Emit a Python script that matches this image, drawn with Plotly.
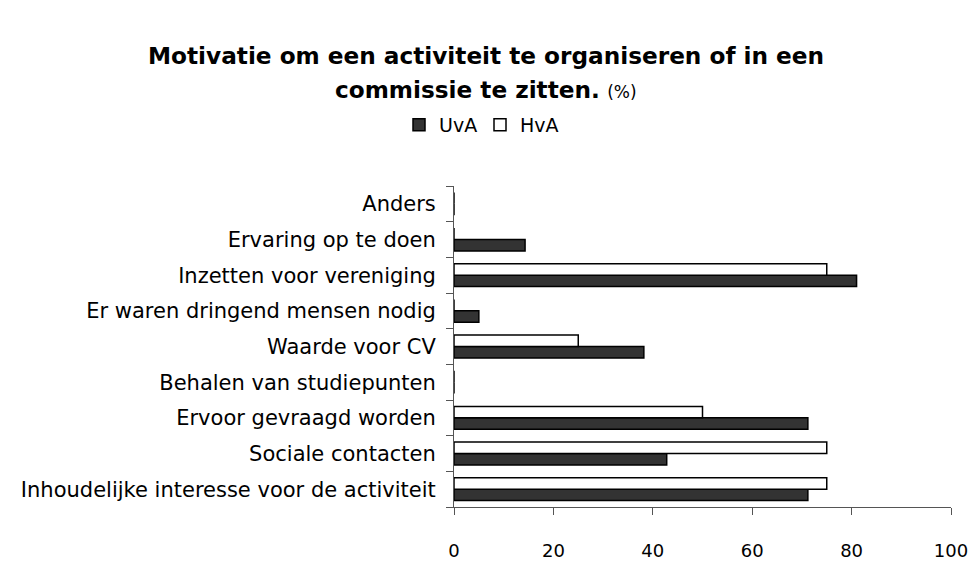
import plotly.graph_objects as go

categories = [
    "Inhoudelijke interesse voor de activiteit",
    "Sociale contacten",
    "Ervoor gevraagd worden",
    "Behalen van studiepunten",
    "Waarde voor CV",
    "Er waren dringend mensen nodig",
    "Inzetten voor vereniging",
    "Ervaring op te doen",
    "Anders",
]
uva = [71.2, 42.8, 71.2, 0, 38.2, 5.0, 81.0, 14.3, 0]
hva = [75.0, 75.0, 50.0, 0, 25.0, 0, 75.0, 0, 0]
x_ticks = [0, 20, 40, 60, 80, 100]

FONT = "DejaVu Sans"

fig = go.Figure()
fig.add_trace(go.Bar(
    y=categories, x=uva, name="UvA", orientation="h",
    marker=dict(color="#333333", line=dict(color="#000000", width=1.5)),
))
fig.add_trace(go.Bar(
    y=categories, x=hva, name="HvA", orientation="h",
    marker=dict(color="#ffffff", line=dict(color="#000000", width=1.5)),
))

W, H = 971, 563
L, T = 454, 186
R = W - 951
B = H - 507
ph = H - T - B
pw = W - L - R
cx = (485.5 - L) / pw
lx = (480 - L) / pw

def py(pix):
    return (H - B - pix) / ph

fig.update_layout(
    width=W, height=H,
    margin=dict(l=L, r=R, t=T, b=B, pad=0, autoexpand=False),
    paper_bgcolor="white", plot_bgcolor="white",
    barmode="group", bargap=0.36, bargroupgap=0.0,
    font=dict(family=FONT, color="#000000"),
    showlegend=True,
    legend=dict(orientation="h", x=lx, xanchor="center", y=py(125), yanchor="middle",
                font=dict(size=19, family=FONT), traceorder="normal",
                itemwidth=30, tracegroupgap=0, entrywidth=36, entrywidthmode="pixels"),
    annotations=[
        dict(text="<b>Motivatie om een activiteit te organiseren of in een</b>",
             xref="paper", yref="paper", x=cx, y=py(55), xanchor="center", yanchor="middle",
             showarrow=False, font=dict(size=23.2, family=FONT)),
        dict(text="<b>commissie te zitten.</b> <span style='font-size:17px'>(%)</span>",
             xref="paper", yref="paper", x=cx, y=py(90), xanchor="center", yanchor="middle",
             showarrow=False, font=dict(size=23.2, family=FONT)),
    ],
)
fig.update_xaxes(
    range=[0, 100], tickvals=x_ticks, ticktext=[str(v) for v in x_ticks],
    showgrid=False, zeroline=False, showline=True, linecolor="#555555", linewidth=1,
    ticks="outside", ticklen=7, tickcolor="#555555", automargin=False,
    tickfont=dict(size=18, family=FONT), ticklabelstandoff=20,
    ticklabeloverflow="allow",
)
fig.update_yaxes(
    categoryorder="array", categoryarray=categories,
    showgrid=False, zeroline=False, showline=True, linecolor="#555555", linewidth=1,
    ticks="outside", ticklen=7, tickcolor="#555555", tickson="boundaries", automargin=False,
    tickfont=dict(size=21, family=FONT), ticklabelstandoff=13,
)

fig.write_html(
    "out.html",
    config={"displayModeBar": False},
    post_script="document.body.style.margin='0';document.body.style.overflow='hidden';",
)
